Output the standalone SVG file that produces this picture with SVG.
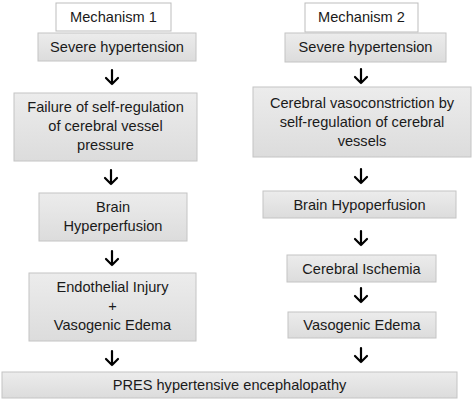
<svg xmlns="http://www.w3.org/2000/svg" width="474" height="402" viewBox="0 0 474 402">
<defs>
<linearGradient id="g" x1="0" y1="0" x2="0" y2="1">
<stop offset="0" stop-color="#ececec"/>
<stop offset="1" stop-color="#dcdcdc"/>
</linearGradient>
<style>
.box{fill:url(#g);stroke:#c4c4c4;stroke-width:1}
.hdr{fill:#ffffff;stroke:#bdbdbd;stroke-width:1}
text{font-family:"Liberation Sans",Arial,sans-serif;font-size:14.6px;fill:#1a1a1a;text-anchor:middle}
.arr{fill:none;stroke:#000;stroke-width:2.2;stroke-linecap:round;stroke-linejoin:round}
</style>
</defs>
<rect width="474" height="402" fill="#fff"/>
<g id="mech1"><rect class="hdr" x="56" y="3" width="115" height="28"/><text x="113.5" y="22">Mechanism 1</text></g>
<g id="sev1"><rect class="box" x="38" y="33" width="158" height="28"/><text x="117" y="52">Severe hypertension</text></g>
<g id="fail"><rect class="box" x="14" y="93" width="183" height="68"/><text x="105.5" y="112">Failure of self-regulation</text><text x="105.5" y="131">of cerebral vessel</text><text x="105.5" y="150">pressure</text></g>
<g id="hyper"><rect class="box" x="39" y="193" width="148" height="48"/><text x="113" y="212">Brain</text><text x="113" y="231">Hyperperfusion</text></g>
<g id="endo"><rect class="box" x="29" y="273" width="167" height="68"/><text x="112.5" y="292">Endothelial Injury</text><text x="112.5" y="311">+</text><text x="112.5" y="330">Vasogenic Edema</text></g>
<g id="mech2"><rect class="hdr" x="305" y="3" width="113" height="29"/><text x="361.5" y="22">Mechanism 2</text></g>
<g id="sev2"><rect class="box" x="285" y="33" width="161" height="29"/><text x="365.5" y="52">Severe hypertension</text></g>
<g id="vaso"><rect class="box" x="253" y="87" width="218" height="70"/><text x="362" y="108">Cerebral vasoconstriction by</text><text x="362" y="127">self-regulation of cerebral</text><text x="362" y="146">vessels</text></g>
<g id="hypo"><rect class="box" x="263" y="191" width="193" height="27"/><text x="359.5" y="210">Brain Hypoperfusion</text></g>
<g id="isch"><rect class="box" x="287" y="255" width="149" height="27"/><text x="361.5" y="274">Cerebral Ischemia</text></g>
<g id="edema"><rect class="box" x="288" y="312" width="148" height="26"/><text x="362" y="330">Vasogenic Edema</text></g>
<g id="pres"><rect class="box" x="2" y="372" width="455" height="26"/><text x="229.5" y="390">PRES hypertensive encephalopathy</text></g>
<g id="connectors">
<path class="arr" d="M112 70V84M106 78L112 84L118 78"/>
<path class="arr" d="M111 170V184M105 178L111 184L117 178"/>
<path class="arr" d="M112 251V265M106 259L112 265L118 259"/>
<path class="arr" d="M112 351V365M106 359L112 365L118 359"/>
<path class="arr" d="M361 69V83M355 77L361 83L367 77"/>
<path class="arr" d="M361 169V183M355 177L361 183L367 177"/>
<path class="arr" d="M361 231V245M355 239L361 245L367 239"/>
<path class="arr" d="M361 288V302M355 296L361 302L367 296"/>
<path class="arr" d="M361 348V362M355 356L361 362L367 356"/>
</g>
</svg>
